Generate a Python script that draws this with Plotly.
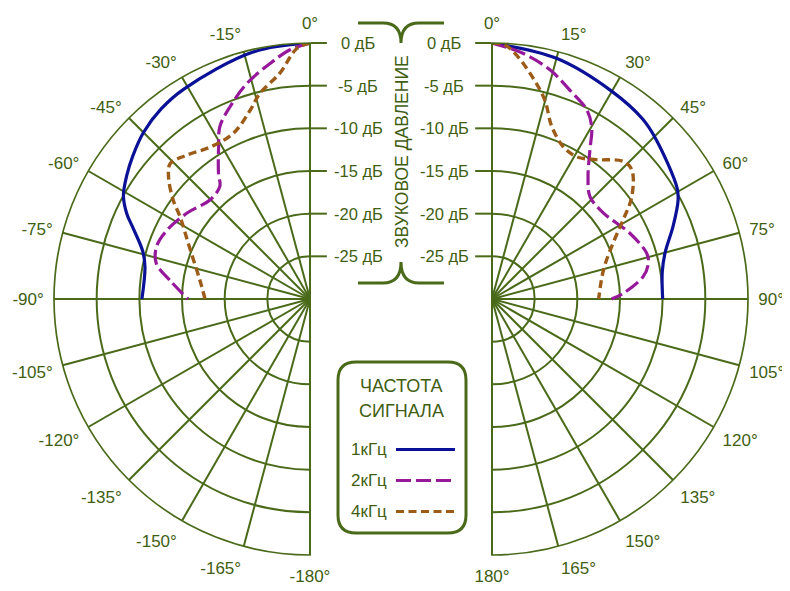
import plotly.graph_objects as go

# ---------------- data ----------------
series_names = ["1кГц", "2кГц", "4кГц"]

# left half (negative angles), dB
left_1k_theta = [0, -13, -31, -38, -45, -51, -56, -61, -65, -68, -74, -79, -90]
left_1k_db    = [0, -0.3, -1.3, -1.7, -2.4, -3.3, -4.1, -5.0, -6.3, -7.6, -9.6, -10.3, -10.3]

left_2k_theta = [0, -4.6, -9.6, -16.4, -22.6, -27.6, -31, -36.1, -38.7, -45.3, -55.2, -64.3, -71.2, -76.9, -82.3, -90]
left_2k_db    = [0, -0.7, -2.0, -3.7, -5.6, -7.2, -9.2, -11.8, -13.1, -13.5, -12.4, -11.4, -11.0, -11.5, -13.4, -15.7]

left_4k_theta = [0, -3, -7.6, -13.7, -17.6, -24.8, -33.3, -40.6, -45.9, -49.2, -54.1, -57.7, -62.3, -68.9, -80.2, -90]
left_4k_db    = [0, -0.6, -3.3, -5.2, -6.8, -8.6, -8.7, -7.8, -7.2, -8.1, -10.2, -12.0, -13.5, -15.1, -16.9, -17.7]

# right half (positive angles), dB
right_1k_theta = [0, 15, 30, 40, 46, 59, 62, 68, 75, 81, 90]
right_1k_db    = [0, -0.8, -1.9, -2.5, -3.2, -4.7, -5.3, -7.1, -9.0, -9.8, -10.0]

right_2k_theta = [0, 7.3, 14.2, 20.5, 26.6, 30.1, 33.3, 38.2, 43.8, 52.4, 64.5, 73.5, 77.1, 81.6, 87.5, 90]
right_2k_db    = [0, -1.0, -2.3, -3.9, -5.2, -6.7, -9.1, -11.8, -13.4, -13.5, -12.1, -11.1, -11.2, -12.1, -14.6, -16.0]

right_4k_theta = [0, 2.9, 5.8, 10.6, 14.9, 19.1, 25.1, 30.8, 36.8, 43.7, 47.3, 53.8, 59, 65.3, 75.4, 90]
right_4k_db    = [0, -0.2, -1.3, -3.7, -5.9, -8.6, -10.3, -10.6, -9.6, -7.7, -7.7, -9.7, -12.1, -14.4, -16.5, -17.5]

angle_ticks_left = [0, -15, -30, -45, -60, -75, -90, -105, -120, -135, -150, -165, -180]
angle_ticks_right = [0, 15, 30, 45, 60, 75, 90, 105, 120, 135, 150, 165, 180]
db_ticks = [0, -5, -10, -15, -20, -25]
db_labels = ["0 дБ", "-5 дБ", "-10 дБ", "-15 дБ", "-20 дБ", "-25 дБ"]
db_min = -30

axis_title = "ЗВУКОВОЕ ДАВЛЕНИЕ"
legend_title = ["ЧАСТОТА", "СИГНАЛА"]

# ---------------- style ----------------
W, H = 790, 591
OFF = 8                      # page body margin
GREEN = "#4a6a1a"
TEXT = "#3f5e12"
FONT = "Liberation Sans, Arial, sans-serif"
colors = {"1кГц": "#0a1196", "2кГц": "#97199b", "4кГц": "#9c5c17"}
dashes = {"1кГц": "solid", "2кГц": "15px,5px", "4кГц": "8px,4.5px"}
widths = {"1кГц": 3.2, "2кГц": 3.2, "4кГц": 3.4}

# geometry in window pixels
CX_L, CX_R, CY, RAD = 310, 492, 299, 256


def px(x):
    return (x - OFF) / W


def py(y):
    return 1 - (y - OFF) / H


fig = go.Figure()

left_data = {"1кГц": (left_1k_theta, left_1k_db), "2кГц": (left_2k_theta, left_2k_db),
             "4кГц": (left_4k_theta, left_4k_db)}
right_data = {"1кГц": (right_1k_theta, right_1k_db), "2кГц": (right_2k_theta, right_2k_db),
              "4кГц": (right_4k_theta, right_4k_db)}

for name in series_names:
    for sub, data in (("polar", left_data), ("polar2", right_data)):
        th, r = data[name]
        fig.add_trace(go.Scatterpolar(theta=th, r=r, mode="lines", subplot=sub, name=name,
                                      line=dict(color=colors[name], dash=dashes[name],
                                                width=widths[name], shape="spline", smoothing=1.0),
                                      showlegend=False))


def polar_layout(domain_x, sector, ticks, side):
    return dict(
        domain=dict(x=domain_x, y=[py(CY + RAD), py(CY - RAD)]),
        sector=sector,
        bgcolor="rgba(0,0,0,0)",
        angularaxis=dict(
            rotation=90, direction="clockwise",
            tickmode="array", tickvals=ticks, ticktext=[f"{t}°" for t in ticks],
            showline=True, linecolor=GREEN, linewidth=1.7,
            showgrid=True, gridcolor=GREEN, gridwidth=1.5,
            ticks="outside", ticklen=6, tickcolor="rgba(0,0,0,0)",
            tickfont=dict(family=FONT, size=17, color=TEXT),
        ),
        radialaxis=dict(
            range=[db_min, 0], angle=90, side=side,
            tickmode="array", tickvals=db_ticks, showticklabels=False,
            showline=True, linecolor=GREEN, linewidth=1.7,
            showgrid=True, gridcolor=GREEN, gridwidth=1.5,
            ticks="outside", ticklen=16, tickcolor=GREEN, tickwidth=1.5,
        ),
    )


fig.update_layout(
    width=W, height=H,
    margin=dict(l=0, r=0, t=0, b=0),
    paper_bgcolor="white", plot_bgcolor="white",
    polar=polar_layout([px(CX_L - RAD), px(CX_L)], [90, 270], angle_ticks_left, "clockwise"),
    polar2=polar_layout([px(CX_R), px(CX_R + RAD)], [-90, 90], angle_ticks_right, "counterclockwise"),
    font=dict(family=FONT, color=TEXT),
)

# ---- dB labels (text of the radial axes) ----
for v, lab in zip(db_ticks, db_labels):
    yy = CY - RAD * (v - db_min) / (0 - db_min)
    for xx in (358, 444):
        fig.add_annotation(x=px(xx), y=py(yy), xref="paper", yref="paper", text=lab,
                           xanchor="center", yanchor="middle", showarrow=False,
                           font=dict(family=FONT, size=16.5, color=TEXT))


# ---- braces around vertical axis title ----
def brace(y_line, y_tip):
    xl, xm, xr, bend = 358, 401, 444, 18
    pts = (f"M {px(xl)},{py(y_line)} L {px(xm-bend)},{py(y_line)} "
           f"Q {px(xm)},{py(y_line)} {px(xm)},{py(y_tip)} "
           f"Q {px(xm)},{py(y_line)} {px(xm+bend)},{py(y_line)} L {px(xr)},{py(y_line)}")
    return dict(type="path", xref="paper", yref="paper", path=pts,
                line=dict(color=GREEN, width=3))


fig.add_shape(brace(23, 43))
fig.add_shape(brace(283, 262))

fig.add_annotation(x=px(402), y=py(152), xref="paper", yref="paper", text=axis_title,
                   textangle=-90, xanchor="center", yanchor="middle", showarrow=False,
                   font=dict(family=FONT, size=17.5, color=TEXT))

# ---- legend box ----
x0, x1, y0, y1, rr = 338, 466, 362, 533, 18
box = (f"M {px(x0+rr)},{py(y0)} L {px(x1-rr)},{py(y0)} Q {px(x1)},{py(y0)} {px(x1)},{py(y0+rr)} "
       f"L {px(x1)},{py(y1-rr)} Q {px(x1)},{py(y1)} {px(x1-rr)},{py(y1)} "
       f"L {px(x0+rr)},{py(y1)} Q {px(x0)},{py(y1)} {px(x0)},{py(y1-rr)} "
       f"L {px(x0)},{py(y0+rr)} Q {px(x0)},{py(y0)} {px(x0+rr)},{py(y0)} Z")
fig.add_shape(type="path", xref="paper", yref="paper", path=box,
              line=dict(color=GREEN, width=3), fillcolor="rgba(0,0,0,0)")

for i, t in enumerate(legend_title):
    fig.add_annotation(x=px(401), y=py(386 + 25 * i), xref="paper", yref="paper", text=t,
                       xanchor="center", yanchor="middle", showarrow=False,
                       font=dict(family=FONT, size=18, color=TEXT))

for i, name in enumerate(series_names):
    yy = 449 + 31 * i
    fig.add_annotation(x=px(389), y=py(yy), xref="paper", yref="paper", text=name,
                       xanchor="right", yanchor="middle", showarrow=False,
                       font=dict(family=FONT, size=17, color=TEXT))
    fig.add_shape(type="line", xref="paper", yref="paper",
                  x0=px(396), x1=px(455), y0=py(yy + 0.5), y1=py(yy + 0.5),
                  line=dict(color=colors[name], dash=dashes[name], width=3.2))

fig.write_html("out.html")
